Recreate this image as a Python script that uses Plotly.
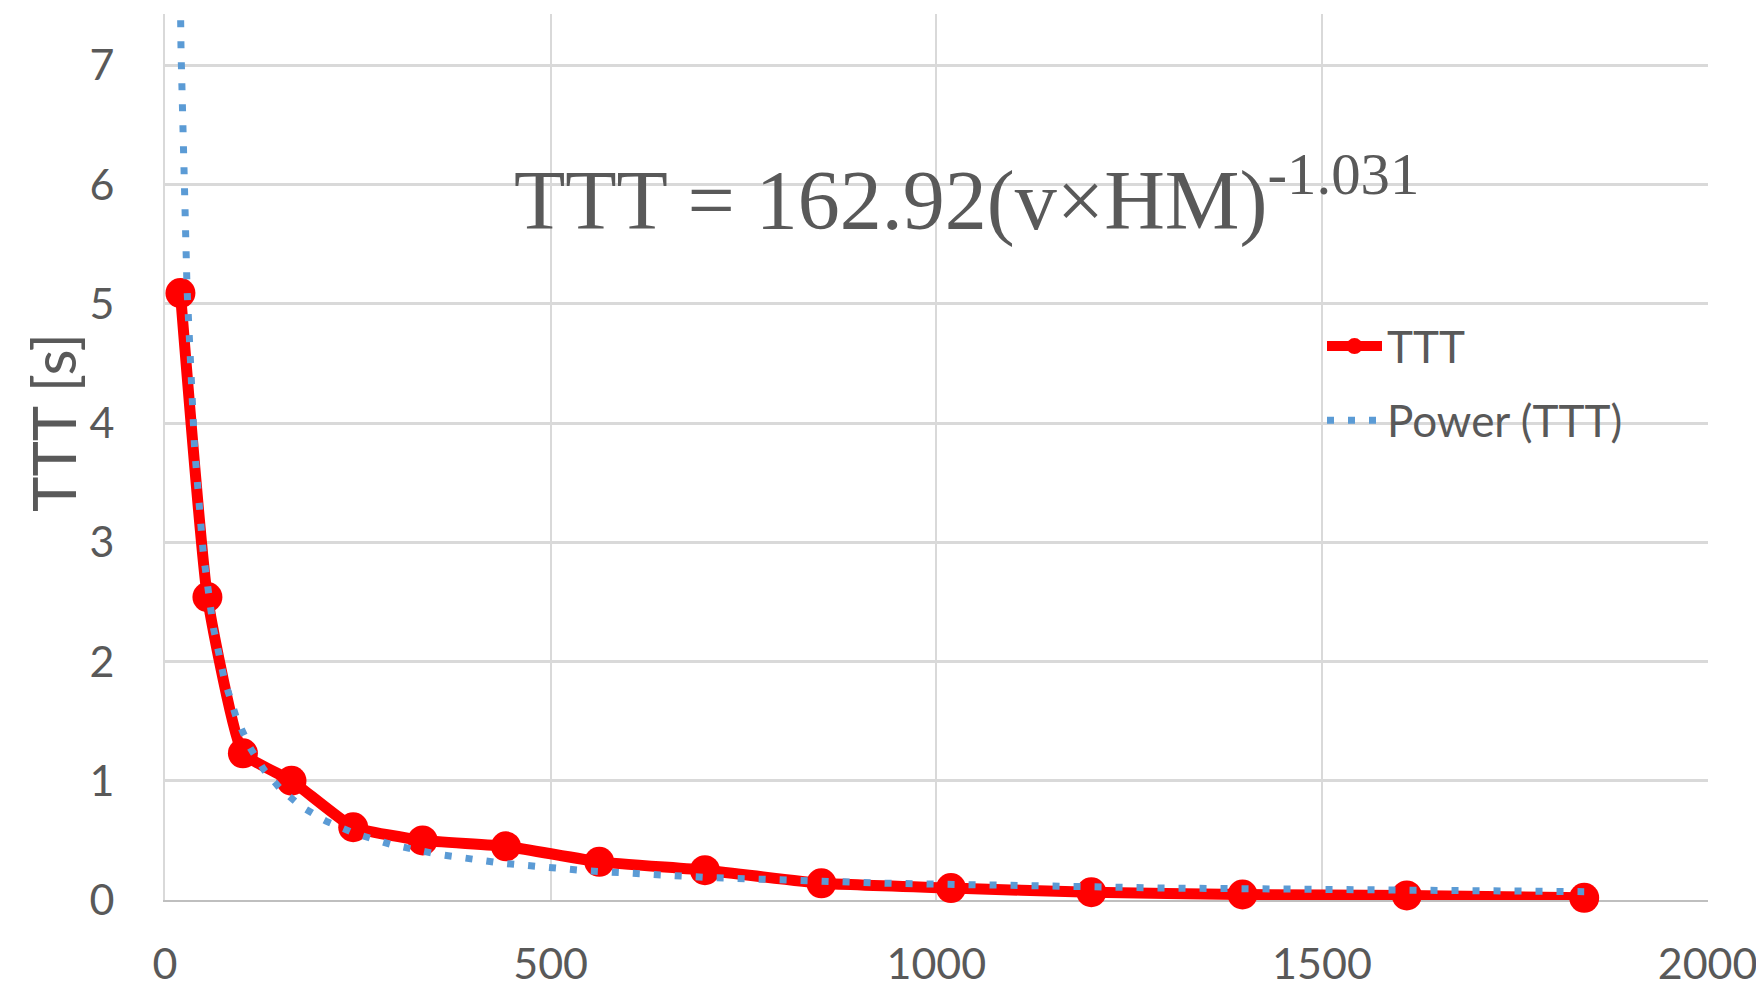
import numpy as np
import plotly.graph_objects as go

# ---- data ----
x_vals = [20, 55, 101, 164, 244, 334, 442, 563, 700, 851, 1019, 1201, 1397, 1610, 1840]
ttt_vals = [5.09, 2.54, 1.23, 1.00, 0.61, 0.50, 0.45, 0.32, 0.25, 0.14, 0.10, 0.065, 0.046, 0.038, 0.018]

# power trendline coefficients as printed on the chart
POWER_A = 162.92
POWER_B = -1.031

x_ticks = [0, 500, 1000, 1500, 2000]
y_ticks = [0, 1, 2, 3, 4, 5, 6, 7]

series_name = "TTT"
trend_name = "Power (TTT)"
y_title = "TTT [s]"

GRAY_TEXT = "#595959"
GRID = "#D9D9D9"

# plot-area geometry in pixels
W, H = 1756, 998
L, R, T, B = 165, 48, 14, 98
PW, PH = W - L - R, H - T - B

trend_x = np.geomspace(14, max(x_vals), 400)
trend_y = POWER_A * trend_x ** POWER_B

fig = go.Figure()
fig.add_trace(go.Scatter(
    x=x_vals, y=ttt_vals, name=series_name, mode="lines+markers",
    line=dict(color="#FF0000", width=11, shape="spline", smoothing=0.4),
    marker=dict(color="#FF0000", size=30),
    legendgroup="g1", cliponaxis=False,
))
fig.add_trace(go.Scatter(
    x=trend_x, y=trend_y, name=trend_name, mode="lines",
    line=dict(color="#5B9BD5", width=7, dash="7px,14px"),
    legendgroup="g2",
))

eq_text = f"TTT = {POWER_A}(v×HM)<sup>{POWER_B}</sup>"
fig.add_annotation(
    x=450, y=5.91, xref="x", yref="y", text=eq_text, showarrow=False,
    xanchor="left", yanchor="middle",
    font=dict(family="Liberation Serif", size=84, color=GRAY_TEXT),
)
fig.add_annotation(
    x=(53 - L) / PW, y=(H - B - 423) / PH, xref="paper", yref="paper",
    text=y_title, showarrow=False,
    textangle=-90, xanchor="center", yanchor="middle",
    font=dict(family="Lato", size=60, color=GRAY_TEXT),
)

fig.update_layout(
    width=W, height=H,
    margin=dict(l=L, r=R, t=T, b=B, pad=0, autoexpand=False),
    paper_bgcolor="white", plot_bgcolor="white",
    font=dict(family="Lato", color=GRAY_TEXT),
    showlegend=True,
    legend=dict(
        x=(1322 - L) / PW, y=(H - B - 311) / PH,
        xanchor="left", yanchor="top",
        font=dict(family="Lato", size=44, color=GRAY_TEXT),
        bgcolor="rgba(0,0,0,0)", itemwidth=55,
        traceorder="grouped", tracegroupgap=14,
    ),
)
fig.update_xaxes(
    range=[0, 2000.5], tickvals=x_ticks, tickformat="d",
    showgrid=True, gridcolor=GRID, gridwidth=2,
    zeroline=False, showline=True, linecolor="#BFBFBF", linewidth=2,
    ticks="", ticklabelstandoff=25, ticklabeloverflow="allow",
    layer="below traces", automargin=False,
    tickfont=dict(family="Lato", size=43, color=GRAY_TEXT),
)
fig.update_yaxes(
    range=[0, 7.43], tickvals=y_ticks,
    showgrid=True, gridcolor=GRID, gridwidth=2.5,
    zeroline=False, showline=True, linecolor=GRID, linewidth=2,
    ticks="", ticklabelstandoff=40, ticklabeloverflow="allow",
    layer="below traces", automargin=False,
    tickfont=dict(family="Lato", size=43, color=GRAY_TEXT),
)

fig.write_html(
    "out.html",
    config={"displayModeBar": False},
    post_script="document.body.style.margin='0';document.body.style.overflow='hidden';",
)
